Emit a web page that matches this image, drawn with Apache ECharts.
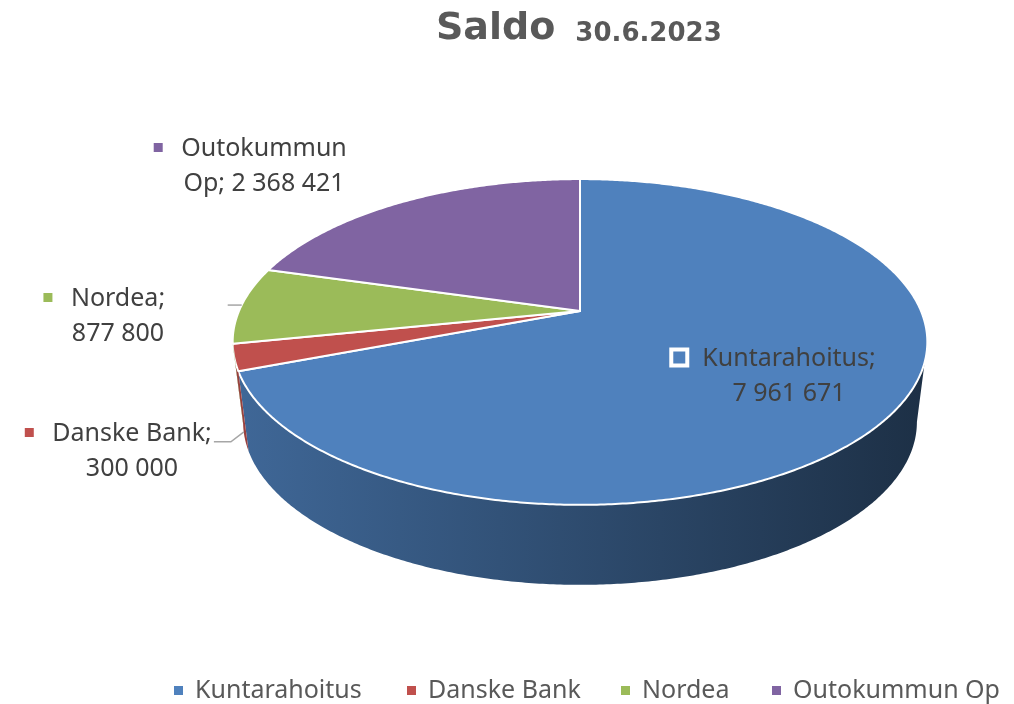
<!DOCTYPE html>
<html>
<head>
<meta charset="utf-8">
<title>Saldo 30.6.2023</title>
<script src="https://cdn.jsdelivr.net/npm/echarts@6/dist/echarts.min.js"></script>
<style>
    html, body { margin: 0; padding: 0; background: #fff; }
    #chart { width: 1014px; height: 704px; }
</style>
</head>
<body>
<div id="chart"></div>
<script>
'use strict';

var names = ['Kuntarahoitus', 'Danske Bank', 'Nordea', 'Outokummun Op'];
var values = [7961671, 300000, 877800, 2368421];
var colors = ['#4F81BD', '#C0504D', '#9BBB59', '#8064A2'];
// how many words of the name go on the first label line
var labelBreak = [1, 2, 1, 1];

// pie geometry (top disc seen in perspective)
var CX = 580, CY = 311, RX = 341, RY = 157, K = 0.19;
var DEPTH = 80, SHRINK = 0.97;
var FONT = '"Noto Sans", "Liberation Sans", sans-serif';
var LABEL_SIZE = 25, LINE_H = 35;

// label placement: centre of the text block, leader offsets from the slice edge
var labelLayout = [
    { x: 789, y: 376, inside: true },
    { x: 132, y: 451, leader: [[-13, 10], [-30, 10]], onWall: true },
    { x: 118, y: 316, leader: [[-14, 0]] },
    { x: 264, y: 166 }
];
var legendLeft = [174, 407, 621, 772];

var total = values.reduce(function (a, b) { return a + b; }, 0);
var starts = [], sweeps = [];
var acc = 0;
values.forEach(function (v) {
    starts.push(acc);
    sweeps.push(v / total * 360);
    acc += v / total * 360;
});

var measureCtx = document.createElement('canvas').getContext('2d');
function textWidth(str) {
    measureCtx.font = LABEL_SIZE + 'px ' + FONT;
    return measureCtx.measureText(str).width;
}

function fmt(v) {
    return String(v).replace(/\B(?=(\d{3})+(?!\d))/g, ' ');
}

function shade(hex, f) {
    var n = parseInt(hex.slice(1), 16);
    var r = Math.round(((n >> 16) & 255) * f),
        g = Math.round(((n >> 8) & 255) * f),
        b = Math.round((n & 255) * f);
    return 'rgb(' + r + ',' + g + ',' + b + ')';
}

// angle in degrees, clockwise from 12 o'clock
function project(phi, bottom) {
    var a = phi * Math.PI / 180;
    var u = Math.sin(a), v = -Math.cos(a);
    var f = 1 / (1 - K * v);
    var x = CX + RX * u * f, y = CY + RY * v * f;
    if (bottom) {
        x = CX + (x - CX) * SHRINK;
        y += DEPTH;
    }
    return [x, y];
}

function arc(a, b, bottom) {
    var pts = [];
    var n = Math.max(2, Math.ceil((b - a) / 0.5));
    for (var j = 0; j <= n; j++) {
        pts.push(project(a + (b - a) * j / n, bottom));
    }
    return pts;
}

function renderSlice(i) {
    return function (params, api) {
        var start = starts[i], end = start + sweeps[i];
        var color = colors[i];
        var children = [];

        // side wall, only the part that faces the viewer
        var lo = Math.acos(-K) * 180 / Math.PI, hi = 360 - lo;
        var a = Math.max(start, lo), b = Math.min(end, hi);
        if (a < b) {
            var wall = arc(a, b, false).concat(arc(a, b, true).reverse());
            children.push({
                type: 'polygon',
                shape: { points: wall },
                style: {
                    fill: {
                        type: 'linear', x: CX - RX, y: 0, x2: CX + RX, y2: 0, global: true,
                        colorStops: [
                            { offset: 0, color: shade(color, 0.8) },
                            { offset: 1, color: shade(color, 0.37) }
                        ]
                    }
                }
            });
        }

        // top face
        var top = [[CX, CY]].concat(arc(start, end, false));
        children.push({
            type: 'polygon',
            shape: { points: top },
            style: { fill: color, stroke: '#ffffff', lineWidth: 2, lineJoin: 'round' }
        });

        // data label
        var lay = labelLayout[i];
        var words = names[i].split(' ');
        var line1 = words.slice(0, labelBreak[i]).join(' ');
        var rest = words.slice(labelBreak[i]).join(' ');
        var line2;
        if (rest) {
            line2 = rest + '; ' + fmt(values[i]);
        } else {
            line1 += ';';
            line2 = fmt(values[i]);
        }
        var y1 = lay.y - LINE_H / 2;
        children.push({
            type: 'text',
            style: {
                text: line1 + '\n' + line2,
                x: lay.x, y: lay.y,
                fontSize: LABEL_SIZE, fontFamily: FONT,
                fill: '#404040',
                align: 'center', verticalAlign: 'middle',
                textAlign: 'center', textVerticalAlign: 'middle',
                lineHeight: LINE_H
            }
        });

        // legend key in front of the first line
        var keyX = lay.x - textWidth(line1) / 2 - 23;
        if (lay.inside) {
            children.push({
                type: 'rect',
                shape: { x: keyX - 8, y: y1 - 9, width: 16, height: 16 },
                style: { fill: color, stroke: '#ffffff', lineWidth: 4 }
            });
        } else {
            children.push({
                type: 'rect',
                shape: { x: keyX - 4.5, y: y1 - 5.5, width: 9, height: 9 },
                style: { fill: color }
            });
        }

        // leader line
        if (lay.leader) {
            var mid = (start + end) / 2;
            var p;
            if (lay.onWall) {
                var t = project(mid, false), bt = project(mid, true);
                p = [t[0] + (bt[0] - t[0]) * 0.93, t[1] + (bt[1] - t[1]) * 0.93];
            } else {
                p = project(mid, false);
            }
            var pts = [p].concat(lay.leader.map(function (o) { return [p[0] + o[0], p[1] + o[1]]; }));
            children.push({
                type: 'polyline',
                shape: { points: pts },
                style: { stroke: '#a6a6a6', lineWidth: 1.5, fill: null }
            });
        }

        return { type: 'group', children: children };
    };
}

var chart = echarts.init(document.getElementById('chart'));

var option = {
    backgroundColor: '#ffffff',
    animation: false,
    title: {
        text: '{a|Saldo} {b|30.6.2023}',
        left: 431,
        top: 5,
        textStyle: {
            rich: {
                a: { fontSize: 38, fontWeight: 'bold', fontFamily: '"DejaVu Sans", sans-serif', color: '#595959', verticalAlign: 'bottom' },
                b: { fontSize: 26, fontWeight: 'bold', fontFamily: '"DejaVu Sans", sans-serif', color: '#595959', verticalAlign: 'bottom', padding: [0, 0, 1, 15] }
            }
        }
    },
    legend: names.map(function (n, i) {
        return {
            data: [n],
            left: legendLeft[i],
            top: 678,
            padding: 0,
            icon: 'rect',
            itemWidth: 9,
            itemHeight: 9,
            selectedMode: false,
            textStyle: { fontSize: 25, fontFamily: FONT, color: '#595959', padding: [0, 0, 0, 7] }
        };
    }),
    series: names.map(function (n, i) {
        return {
            type: 'custom',
            name: n,
            coordinateSystem: 'none',
            itemStyle: { color: colors[i] },
            data: [values[i]],
            renderItem: renderSlice(i)
        };
    })
};

chart.setOption(option);
</script>
</body>
</html>
